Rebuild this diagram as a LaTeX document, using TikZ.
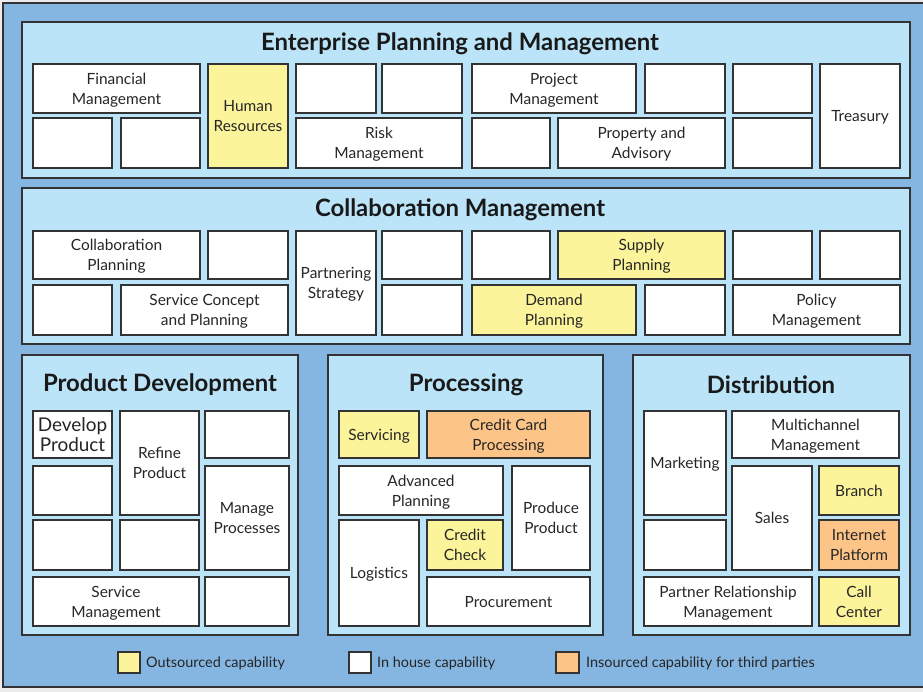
\documentclass[tikz,border=0pt]{standalone}
\usepackage{fontspec}
\setmainfont{Lato}

\definecolor{outerblue}{HTML}{85B6E2}
\definecolor{panelblue}{HTML}{BBE4F8}
\definecolor{outsrc}{HTML}{FBF49B}
\definecolor{insrc}{HTML}{FDC487}
\definecolor{edge}{HTML}{333333}

\tikzset{
  frame/.style={draw=edge, line width=2bp, fill=outerblue},
  panel/.style={draw=edge, line width=1.8bp, fill=panelblue, inner sep=0pt},
  cell/.style={draw=edge, line width=1.6bp, fill=white, inner sep=0pt,
    align=center, text=black!85, font=\fontsize{15.5}{20}\selectfont},
  outs/.style={cell, fill=outsrc},
  ins/.style={cell, fill=insrc},
  ptitle/.style={font=\fontsize{24}{26}\bfseries\selectfont, text=black!90},
  legtext/.style={font=\fontsize{14.5}{16}\selectfont, anchor=west, text=black!85, inner sep=0pt},
  swatch/.style={draw=edge, line width=1.6bp, inner sep=0pt}
}

% \cellbox[style]{name}{x1}{y1}{x2}{y2}{text}: a box spanning the given corners
\newcommand\cellbox[7][cell]{%
  \pgfmathsetmacro\cbx{(#3+#5)/2}\pgfmathsetmacro\cby{(#4+#6)/2}%
  \pgfmathsetmacro\cbw{#5-#3}\pgfmathsetmacro\cbh{#6-#4}%
  \node[#1, minimum width=\cbw bp, minimum height=\cbh bp,
        text depth=0pt] (#2) at (\cbx,\cby) {#7};}

\begin{document}
\begin{tikzpicture}[x=1bp,y=-1bp]
\useasboundingbox (0,0) rectangle (923,692);
\begin{scope}
\clip (0,0) rectangle (923,692);
\fill[white!92!black] (0,0) rectangle (923,692);
\draw[frame] (3,3) rectangle (926,687);
\end{scope}

% Enterprise Planning and Management
\cellbox[panel]{p1}{22}{22}{910}{178}{}
\node[ptitle] (t1) at (460,44) {Enterprise Planning and Management};
\cellbox{fin}{33}{64}{200}{113}{Financial\\Management}
\cellbox{e1}{33}{118}{112}{168}{}
\cellbox{e2}{121}{118}{200}{168}{}
\cellbox[outs]{hr}{208}{64}{288}{168}{Human\\Resources}
\cellbox{e3}{296}{64}{376}{113}{}
\cellbox{e4}{382}{64}{462}{113}{}
\cellbox{risk}{296}{118}{462}{168}{Risk\\Management}
\cellbox{proj}{472}{64}{636}{113}{Project\\Management}
\cellbox{e5}{645}{64}{725}{113}{}
\cellbox{e6}{733}{64}{812}{113}{}
\cellbox{treas}{820}{64}{900}{168}{Treasury}
\cellbox{e7}{472}{118}{550}{168}{}
\cellbox{prop}{558}{118}{725}{168}{Property and\\Advisory}
\cellbox{e8}{733}{118}{812}{168}{}

% Collaboration Management
\cellbox[panel]{p2}{22}{188}{910}{344}{}
\node[ptitle] (t2) at (460,210) {Collaboration Management};
\cellbox{colp}{33}{231}{200}{279}{Collaboration\\Planning}
\cellbox{c1}{208}{231}{288}{279}{}
\cellbox{partn}{296}{231}{376}{335}{Partnering\\Strategy}
\cellbox{c2}{382}{231}{462}{279}{}
\cellbox{c3}{472}{231}{550}{279}{}
\cellbox[outs]{supply}{558}{231}{725}{279}{Supply\\Planning}
\cellbox{c4}{733}{231}{812}{279}{}
\cellbox{c5}{820}{231}{900}{279}{}
\cellbox{c6}{33}{285}{112}{335}{}
\cellbox{svc}{121}{285}{288}{335}{Service Concept\\and Planning}
\cellbox{c7}{382}{285}{462}{335}{}
\cellbox[outs]{demand}{472}{285}{636}{335}{Demand\\Planning}
\cellbox{c8}{645}{285}{725}{335}{}
\cellbox{policy}{733}{285}{900}{335}{Policy\\Management}

% Product Development
\cellbox[panel]{p3}{22}{355}{298}{635}{}
\node[ptitle] (t3) at (160,385) {Product Development};
\cellbox[cell, font=\fontsize{19}{21}\selectfont]{dev}{33}{411}{112}{458}{Develop\\Product}
\cellbox{refine}{120}{411}{199}{515}{Refine\\Product}
\cellbox{d1}{205}{411}{289}{458}{}
\cellbox{d2}{33}{466}{112}{515}{}
\cellbox{manage}{205}{466}{289}{570}{Manage\\Processes}
\cellbox{d3}{33}{520}{112}{570}{}
\cellbox{d4}{120}{520}{199}{570}{}
\cellbox{svcm}{33}{577}{199}{626}{Service\\Management}
\cellbox{d5}{205}{577}{289}{626}{}

% Processing
\cellbox[panel]{p4}{328}{355}{603}{635}{}
\node[ptitle] (t4) at (466,385) {Processing};
\cellbox[outs]{servicing}{339}{411}{419}{458}{Servicing}
\cellbox[ins]{ccp}{427}{411}{590}{458}{Credit Card\\Processing}
\cellbox{advp}{339}{466}{503}{515}{Advanced\\Planning}
\cellbox{produce}{512}{466}{590}{570}{Produce\\Product}
\cellbox{logi}{339}{520}{419}{626}{Logistics}
\cellbox[outs]{ccheck}{427}{520}{503}{570}{Credit\\Check}
\cellbox{procure}{427}{577}{590}{626}{Procurement}

% Distribution
\cellbox[panel]{p5}{633}{355}{910}{635}{}
\node[ptitle] (t5) at (771,385) {Distribution};
\cellbox{mkt}{644}{411}{726}{515}{Marketing}
\cellbox{multi}{732}{411}{899}{458}{Multichannel\\Management}
\cellbox{sales}{732}{466}{812}{570}{Sales}
\cellbox[outs]{branch}{819}{466}{899}{515}{Branch}
\cellbox[ins]{inet}{819}{520}{899}{570}{Internet\\Platform}
\cellbox{x1}{644}{520}{726}{570}{}
\cellbox{prm}{644}{577}{812}{626}{Partner Relationship\\Management}
\cellbox[outs]{call}{819}{577}{899}{626}{Call\\Center}

% Legend
\cellbox[swatch, fill=outsrc]{s1}{118}{652}{140}{673}{}
\node[legtext] (l1) at (146,663) {Outsourced capability};
\cellbox[swatch, fill=white]{s2}{349}{652}{371}{673}{}
\node[legtext] (l2) at (377,663) {In house capability};
\cellbox[swatch, fill=insrc]{s3}{556}{652}{579}{673}{}
\node[legtext] (l3) at (586,663) {Insourced capability for third parties};
\end{tikzpicture}
\end{document}
